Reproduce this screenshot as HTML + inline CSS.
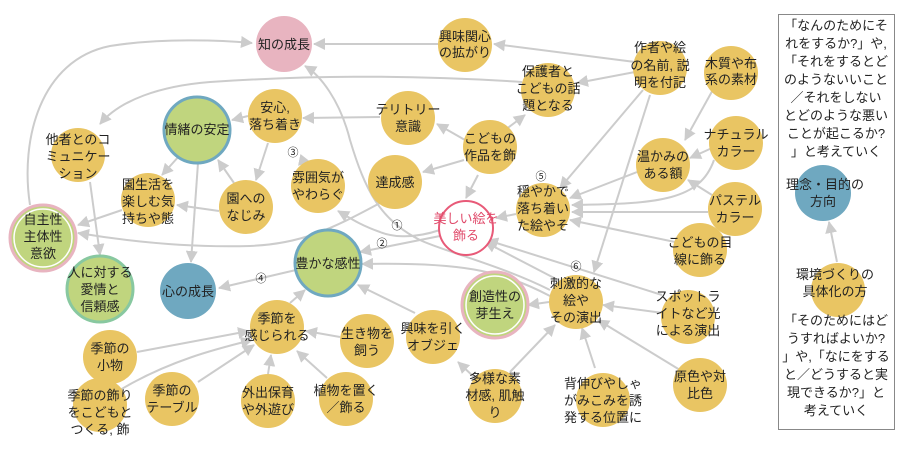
<!DOCTYPE html>
<html><head><meta charset="utf-8"><style>
html,body{margin:0;padding:0;background:#fff;}
svg{display:block;font-family:"Liberation Sans","Noto Sans CJK JP",sans-serif;}
text{font-size:13px;fill:#222;text-anchor:middle;}
.e{stroke:#cccccc;stroke-width:2;fill:none;marker-end:url(#a);}
.n{fill:#e9c563;}
.num{font-size:11px;}
</style></head><body>
<svg width="913" height="454" viewBox="0 0 913 454">
<defs><marker id="a" markerUnits="userSpaceOnUse" markerWidth="12" markerHeight="12" viewBox="0 0 12 12" refX="11" refY="6" orient="auto"><path d="M0,0 L12,6 L0,12 z" fill="#cccccc"/></marker></defs>

<!-- edges -->
<path class="e" d="M438,44 L314,44"/>
<path class="e" d="M635,62 L494,44"/>
<path class="e" d="M635,72 L577,83"/>
<path class="e" d="M643,90 L560,188"/>
<path class="e" d="M650,95 L594,272"/>
<path class="e" d="M522,82 C400,74 300,76 210,82 C160,86 120,100 100,124"/>
<path class="e" d="M505,130 L525,115"/>
<path class="e" d="M465,140 L437,124"/>
<path class="e" d="M464,160 L423,172"/>
<path class="e" d="M478,175 L466,198"/>
<path class="e" d="M380,117 L303,118"/>
<path class="e" d="M248,116 L232,120"/>
<path class="e" d="M268,143 L256,180"/>
<path class="e" d="M300,160 L310,162"/>
<path class="e" d="M234,183 L218,160"/>
<path class="e" d="M219,211 L177,205"/>
<path class="e" d="M180,155 L162,175"/>
<path class="e" d="M198,163 L191,262"/>
<path class="e" d="M90,182 L100,255"/>
<path class="e" d="M122,210 L78,225"/>
<path class="e" d="M30,205 C20,140 40,60 110,46 C160,38 220,40 252,43"/>
<path class="e" d="M380,203 C330,230 300,244 250,246 C180,248 120,240 78,233"/>
<path class="e" d="M440,230 C410,240 390,236 380,232 C360,225 350,218 338,211"/>
<path class="e" d="M440,236 L360,252"/>
<path class="e" d="M296,270 L219,288"/>
<path class="e" d="M516,214 L496,218"/>
<path class="e" d="M637,172 L570,198"/>
<path class="e" d="M712,148 L690,158"/>
<path class="e" d="M714,160 C700,200 660,204 572,205"/>
<path class="e" d="M708,212 L572,212"/>
<path class="e" d="M712,195 L688,180"/>
<path class="e" d="M675,242 L570,220"/>
<path class="e" d="M715,86 L685,140"/>
<path class="e" d="M558,280 L485,242"/>
<path class="e" d="M662,295 L487,240"/>
<path class="e" d="M549,302 L528,305"/>
<path class="e" d="M663,313 L603,305"/>
<path class="e" d="M680,370 L598,320"/>
<path class="e" d="M595,368 L582,328"/>
<path class="e" d="M510,372 L555,325"/>
<path class="e" d="M475,378 L458,362"/>
<path class="e" d="M550,290 C500,265 440,250 420,240 C380,220 365,190 350,140 C340,100 320,75 305,66"/>
<path class="e" d="M550,296 C500,270 460,262 362,264"/>
<path class="e" d="M415,313 L358,285"/>
<path class="e" d="M290,303 L305,290"/>
<path class="e" d="M137,352 L249,331"/>
<path class="e" d="M120,390 C170,360 220,348 252,340"/>
<path class="e" d="M198,382 L254,345"/>
<path class="e" d="M268,374 L271,355"/>
<path class="e" d="M327,378 L297,351"/>
<path class="e" d="M340,337 L306,331"/>
<path class="e" d="M468,298 L462,302"/>
<path class="e" d="M837,262 L829,222"/>

<!-- box -->
<rect x="778.5" y="14.5" width="116" height="415" fill="none" stroke="#888" stroke-width="1"/>

<!-- nodes -->
<circle cx="284" cy="44" r="28" fill="#e8b4c0"/><text x="284" y="49">知の成長</text>
<circle class="n" cx="465" cy="45" r="27"/><text x="465" y="41">興味関心</text><text x="465" y="57">の拡がり</text>
<circle class="n" cx="660" cy="68" r="27"/><text x="660" y="52">作者や絵</text><text x="660" y="70">の名前, 説</text><text x="660" y="87">明を付記</text>
<circle class="n" cx="731" cy="73" r="27"/><text x="731" y="68">木質や布</text><text x="731" y="84">系の素材</text>
<circle class="n" cx="548" cy="90" r="27"/><text x="548" y="76">保護者と</text><text x="548" y="93">こどもの話</text><text x="548" y="110">題となる</text>
<circle class="n" cx="408" cy="118" r="27"/><text x="408" y="114">テリトリー</text><text x="408" y="131">意識</text>
<circle class="n" cx="275" cy="116" r="27"/><text x="275" y="112">安心,</text><text x="275" y="129">落ち着き</text>
<circle cx="197" cy="130" r="33" fill="#c0d57e" stroke="#6fa8c0" stroke-width="3"/><text x="197" y="134">情緒の安定</text>
<circle class="n" cx="78" cy="155" r="27"/><text x="78" y="144">他者とのコ</text><text x="78" y="161">ミュニケー</text><text x="78" y="178">ション</text>
<circle class="n" cx="490" cy="147" r="27"/><text x="490" y="143">こどもの</text><text x="490" y="160">作品を飾</text>
<circle class="n" cx="736" cy="143" r="27"/><text x="736" y="139">ナチュラル</text><text x="736" y="156">カラー</text>
<circle class="n" cx="663" cy="165" r="27"/><text x="663" y="161">温かみの</text><text x="663" y="178">ある額</text>
<circle class="n" cx="318" cy="186" r="27"/><text x="318" y="182">雰囲気が</text><text x="318" y="199">やわらぐ</text>
<text class="num" x="293" y="156">③</text>
<circle class="n" cx="395" cy="182" r="27"/><text x="395" y="187">達成感</text>
<circle class="n" cx="148" cy="200" r="27"/><text x="148" y="189">園生活を</text><text x="148" y="206">楽しむ気</text><text x="148" y="223">持ちや態</text>
<circle class="n" cx="246" cy="207" r="27"/><text x="246" y="203">園への</text><text x="246" y="220">なじみ</text>
<circle cx="466" cy="228" r="27" fill="#fff" stroke="#e85a78" stroke-width="2"/><text x="466" y="223" style="fill:#e04a6a">美しい絵を</text><text x="466" y="240" style="fill:#e04a6a">飾る</text>
<text class="num" x="541" y="180">⑤</text>
<circle class="n" cx="543" cy="210" r="27"/><text x="543" y="196">穏やかで</text><text x="543" y="213">落ち着い</text><text x="543" y="230">た絵やそ</text>
<circle class="n" cx="735" cy="209" r="27"/><text x="735" y="205">パステル</text><text x="735" y="222">カラー</text>
<circle cx="43" cy="238" r="33" fill="#c0d57e" stroke="#e8b4c0" stroke-width="3"/><circle cx="43" cy="238" r="29" fill="none" stroke="#fff" stroke-width="1.5"/><text x="43" y="224">自主性</text><text x="43" y="241">主体性</text><text x="43" y="258">意欲</text>
<circle class="n" cx="700" cy="250" r="27"/><text x="700" y="247">こどもの目</text><text x="700" y="264">線に飾る</text>
<text class="num" x="397" y="229">①</text>
<text class="num" x="382" y="247">②</text>
<text class="num" x="261" y="282">④</text>
<circle cx="328" cy="263" r="33" fill="#c0d57e" stroke="#6fa8c0" stroke-width="3"/><text x="328" y="268">豊かな感性</text>
<circle cx="100" cy="289" r="33" fill="#c0d57e" stroke="#88c8a0" stroke-width="3"/><text x="100" y="277">人に対する</text><text x="100" y="294">愛情と</text><text x="100" y="311">信頼感</text>
<circle cx="188" cy="291" r="28" fill="#6fa8c0"/><text x="188" y="296">心の成長</text>
<text class="num" x="576" y="270">⑥</text>
<circle class="n" cx="576" cy="302" r="27"/><text x="576" y="288">刺激的な</text><text x="576" y="305">絵や</text><text x="576" y="322">その演出</text>
<circle cx="495" cy="305" r="33" fill="#c0d57e" stroke="#e8b4c0" stroke-width="3"/><circle cx="495" cy="305" r="29" fill="none" stroke="#fff" stroke-width="1.5"/><text x="495" y="301">創造性の</text><text x="495" y="318">芽生え</text>
<circle class="n" cx="688" cy="317" r="27"/><text x="688" y="301">スポットラ</text><text x="688" y="318">イトなど光</text><text x="688" y="335">による演出</text>
<circle class="n" cx="277" cy="327" r="27"/><text x="277" y="323">季節を</text><text x="277" y="340">感じられる</text>
<circle class="n" cx="367" cy="341" r="27"/><text x="367" y="338">生き物を</text><text x="367" y="355">飼う</text>
<circle class="n" cx="433" cy="337" r="27"/><text x="433" y="333">興味を引く</text><text x="433" y="350">オブジェ</text>
<circle class="n" cx="110" cy="357" r="27"/><text x="110" y="353">季節の</text><text x="110" y="370">小物</text>
<circle class="n" cx="100" cy="405" r="27"/><text x="100" y="400">季節の飾り</text><text x="100" y="417">をこどもと</text><text x="100" y="434">つくる, 飾</text>
<circle class="n" cx="172" cy="399" r="27"/><text x="172" y="395">季節の</text><text x="172" y="412">テーブル</text>
<circle class="n" cx="268" cy="401" r="27"/><text x="268" y="397">外出保育</text><text x="268" y="414">や外遊び</text>
<circle class="n" cx="346" cy="399" r="27"/><text x="346" y="395">植物を置く</text><text x="346" y="412">／飾る</text>
<circle class="n" cx="495" cy="396" r="27"/><text x="495" y="383">多様な素</text><text x="495" y="400">材感, 肌触</text><text x="495" y="417">り</text>
<circle class="n" cx="603" cy="400" r="27"/><text x="603" y="388">背伸びやしゃ</text><text x="603" y="405">がみこみを誘</text><text x="603" y="422">発する位置に</text>
<circle class="n" cx="700" cy="385" r="27"/><text x="700" y="381">原色や対</text><text x="700" y="398">比色</text>

<text x="836" y="30">「なんのためにそ</text>
<text x="836" y="48">れをするか?」や,</text>
<text x="836" y="66">「それをするとど</text>
<text x="836" y="84">のようないいこと</text>
<text x="836" y="102">／それをしない</text>
<text x="836" y="120">とどのような悪い</text>
<text x="836" y="138">ことが起こるか?</text>
<text x="836" y="156">」と考えていく</text>
<circle cx="823" cy="193" r="28" fill="#6fa8c0"/><text x="825" y="189">理念・目的の</text><text x="823" y="206">方向</text>
<circle class="n" cx="838" cy="290" r="27"/><text x="835" y="279">環境づくりの</text><text x="835" y="296">具体化の方</text>
<text x="836" y="325">「そのためにはど</text>
<text x="836" y="343">うすればよいか?</text>
<text x="836" y="361">」や,「なにをする</text>
<text x="836" y="379">と／どうすると実</text>
<text x="836" y="397">現できるか?」と</text>
<text x="836" y="415">考えていく</text>
</svg>
</body></html>
